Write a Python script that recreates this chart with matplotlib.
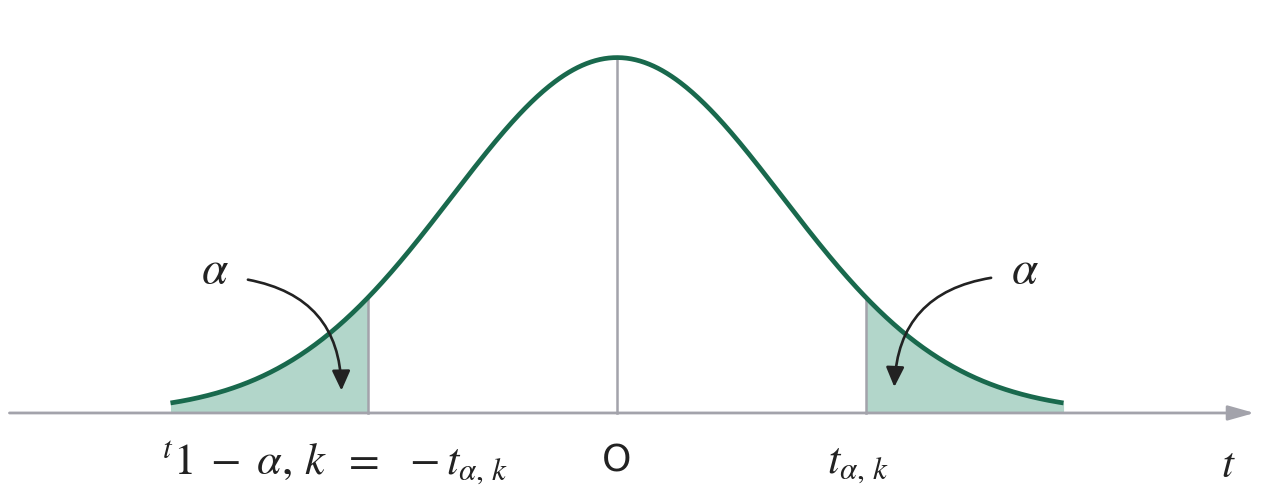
import numpy as np
import matplotlib
matplotlib.use("Agg")
import matplotlib.pyplot as plt
from matplotlib.patches import FancyArrowPatch
from math import gamma, sqrt, pi

# ---- data ----
df_k = 200                 # degrees of freedom (shape close to normal)
t_alpha = 1.5              # critical value t_{alpha,k}
curve_range = [-2.69, 2.69]
axis_range = [-3.66, 3.84]
tick_positions = [-1.70, 0.0, 1.45]
tick_labels = [r"${}^{t}1\;-\;\alpha,\,k\;\;=\;\;-t_{\alpha,\,k}$", "O", r"$t_{\alpha,\,k}$"]
alpha_label_pos = [(-2.42, 0.160), (2.46, 0.160)]
arrow_starts = [(-2.24, 0.150), (2.27, 0.152)]
arrow_ends = [(-1.66, 0.022), (1.67, 0.026)]
arrow_rads = [-0.42, 0.42]

def tpdf(x, k):
    c = gamma((k + 1) / 2) / (sqrt(k * pi) * gamma(k / 2))
    return c * (1 + x ** 2 / k) ** (-(k + 1) / 2)

plt.rcParams["mathtext.fontset"] = "stix"

fig = plt.figure(figsize=(12.88, 4.92), dpi=100)
ax = fig.add_axes([0, 0, 1, 1])
ax.set_xlim(-3.717, 4.042)
ax.set_ylim(-0.0886, 0.463)
ax.axis("off")

green = "#19694d"
fill_c = "#b2d6ca"
gray = "#a3a3ab"

x = np.linspace(curve_range[0], curve_range[1], 600)
y = tpdf(x, df_k)

# shaded tails
xl = x[x <= -t_alpha]
xl = np.append(xl, -t_alpha)
ax.fill_between(xl, 0, tpdf(xl, df_k), color=fill_c, lw=0, zorder=1)
xr = x[x >= t_alpha]
xr = np.insert(xr, 0, t_alpha)
ax.fill_between(xr, 0, tpdf(xr, df_k), color=fill_c, lw=0, zorder=1)

# vertical lines
for xv in [-t_alpha, 0.0, t_alpha]:
    ax.plot([xv, xv], [0, tpdf(xv, df_k)], color=gray, lw=1.8, zorder=2)

# axis with arrow
ax.annotate("", xy=(axis_range[1], 0), xytext=(axis_range[0], 0),
            arrowprops=dict(arrowstyle="-|>,head_length=1.6,head_width=0.45",
                            color=gray, lw=2.0, shrinkA=0, shrinkB=0), zorder=2)

# curve
ax.plot(x, y, color=green, lw=3.4, solid_capstyle="butt", zorder=3)

# alpha labels and arrows
for (lx, ly), s, e, r in zip(alpha_label_pos, arrow_starts, arrow_ends, arrow_rads):
    ax.text(lx, ly, r"$\alpha$", fontsize=34, ha="center", va="center", color="#222222")
    arr = FancyArrowPatch(s, e, connectionstyle=f"arc3,rad={r}",
                          arrowstyle="-|>,head_length=12,head_width=5.5",
                          color="#222222", lw=1.9, zorder=4)
    ax.add_patch(arr)

# tick labels
for xp, lab in zip(tick_positions, tick_labels):
    if lab == "O":
        ax.text(xp, -0.054, lab, fontsize=27, ha="center", va="center",
                family="DejaVu Sans", color="#222222")
    else:
        ax.text(xp, -0.057, lab, fontsize=32, ha="center", va="center", color="#222222")

ax.text(3.68, -0.058, r"$t$", fontsize=31, ha="center", va="center", color="#222222")

fig.savefig("out.png", dpi=100)
